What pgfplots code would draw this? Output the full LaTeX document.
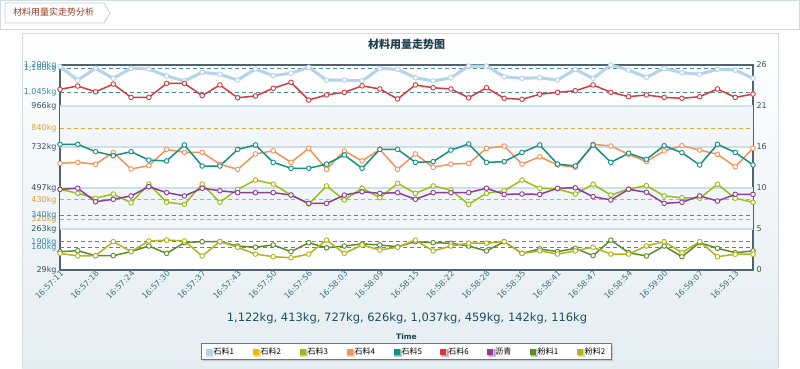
\documentclass[border=0pt]{standalone}
\usepackage{fontspec}
\setmainfont{DejaVu Sans}
\newfontfamily\cjk{Noto Sans CJK SC}
\usepackage{pgfplots}
\pgfplotsset{compat=1.18}
\usepackage{pgfplotstable}
\usetikzlibrary{shadows}
\definecolor{framec}{HTML}{4F6470}
\definecolor{c1}{HTML}{B5D3EA}
\definecolor{c2}{HTML}{F2B705}
\definecolor{c3}{HTML}{99BF17}
\definecolor{c4}{HTML}{F5925B}
\definecolor{c5}{HTML}{168F85}
\definecolor{c6}{HTML}{D33B40}
\definecolor{c7}{HTML}{8D3F96}
\definecolor{c8}{HTML}{5A8C2B}
\definecolor{c9}{HTML}{B3B31E}
\definecolor{ylab}{HTML}{35525E}
\definecolor{lbl}{HTML}{3888A8}
\definecolor{lor}{HTML}{D8A030}
\definecolor{xtc}{HTML}{3D7080}
\definecolor{bandc}{HTML}{F2F6F8}
\definecolor{gridc}{HTML}{CDDFE7}
\definecolor{dashb}{HTML}{4B8CA3}
\definecolor{dasho}{HTML}{E3A73A}
\definecolor{panelbot}{HTML}{E4EDF2}
\definecolor{panelline}{HTML}{D2DBE0}
\definecolor{tabline}{HTML}{C4CDD2}
\definecolor{hdrtext}{HTML}{9A3A22}
\definecolor{titc}{HTML}{1F3F4F}
\definecolor{sumc}{HTML}{1F4D5C}
\definecolor{legc}{HTML}{6A7A84}
\pgfplotstableread{
i s1 s3 s4 s5 s6 lq f1 f2
0 1190 490 638 747 1061 490 134 124
1 1114 467 644 747 1080 496 139 109
2 1181 439 633 705 1047 419 111 111
3 1124 463 701 682 1091 433 111 191
4 1181 413 606 705 1015 452 134 134
5 1177 520 625 657 1015 505 166 195
6 1137 416 718 652 1095 471 124 200
7 1109 404 701 743 1095 452 185 195
8 1158 520 701 623 1025 496 191 109
9 1147 416 633 623 1086 482 191 191
10 1114 490 604 718 1013 471 166 159
11 1177 543 692 743 1023 471 159 120
12 1139 520 710 644 1067 471 172 105
13 1153 457 644 610 1101 457 134 99
14 1187 406 724 610 1000 410 185 120
15 1114 509 604 634 1029 410 156 200
16 1114 429 709 686 1044 457 166 124
17 1109 496 652 610 1081 476 178 172
18 1181 442 718 718 1063 467 172 143
19 1175 524 604 718 1006 471 162 159
20 1127 467 692 644 1086 433 191 200
21 1109 509 616 648 1070 471 185 138
22 1127 486 634 714 1063 471 182 166
23 1194 404 638 749 1013 471 166 182
24 1194 467 724 644 1070 496 138 182
25 1133 482 737 648 1010 461 191 191
26 1124 543 634 701 1004 463 124 124
27 1127 496 676 743 1033 461 149 138
28 1114 492 629 634 1044 496 134 120
29 1175 463 616 623 1053 499 153 138
30 1124 519 747 743 1086 448 111 159
31 1200 457 737 644 1044 429 200 120
32 1171 492 690 696 1019 490 128 120
33 1130 511 648 661 1029 473 109 166
34 1181 452 709 739 1015 410 166 191
35 1156 442 739 699 1010 416 105 128
36 1147 439 714 629 1019 452 185 191
37 1175 519 690 747 1063 423 153 105
38 1171 439 619 701 1015 461 128 119
39 1124 416 724 629 1034 461 138 119
}\data
\pgfplotsset{ser/.style={color=#1, line width=1.5pt, mark=*, mark size=2.3pt, mark options={fill=white, line width=0.9pt}}}
\begin{document}
\begin{tikzpicture}[x=1pt,y=1pt]
\useasboundingbox (0,0) rectangle (800,368);
\fill[white] (0,0) rectangle (800,368);
% header
\draw[panelline, fill=white] (0.5,339) rectangle (799.5,367.5);
\draw[tabline, fill=white, line width=0.8pt] (5,365) -- (104,365) -- (110,355) -- (104,345) -- (5,345) -- cycle;
\node[font=\cjk\fontsize{9}{10}\selectfont, text=hdrtext, anchor=west, inner sep=0pt] at (13,355.5) {材料用量实走势分析};
% panel
\shade[top color=white, bottom color=panelbot] (22,0) rectangle (778,335);
\draw[panelline, line width=0.8pt] (22,0) -- (22,335) -- (778,335) -- (778,0);
\begin{axis}[
  at={(60pt,98pt)}, anchor=south west, scale only axis,
  width=693pt, height=205pt,
  xmin=0, xmax=39, ymin=29, ymax=1200,
  clip=false,
  axis line style={draw=framec, line width=1.8pt},
  axis background/.style={fill=white},
  major tick length=0pt,
  xtick pos=bottom, ytick pos=left,
  xtick={0,2,...,38},
  xticklabels={16:57:11,16:57:18,16:57:24,16:57:30,16:57:37,16:57:43,16:57:50,16:57:56,16:58:03,16:58:09,16:58:15,16:58:22,16:58:28,16:58:35,16:58:41,16:58:47,16:58:54,16:59:00,16:59:07,16:59:13},
  ytick={29,160,190,263,320,340,430,497,732,840,966,1045,1180,1200},
  yticklabels={29kg,{\textcolor{lbl}{160kg}},{\textcolor{lbl}{190kg}},263kg,{\textcolor{lor}{320kg}},{\textcolor{lbl}{340kg}},{\textcolor{lor}{430kg}},497kg,732kg,{\textcolor{lor}{840kg}},966kg,{\textcolor{lbl}{1,045kg}},{\textcolor{lbl}{1,180kg}},{\textcolor{lbl}{1,200kg}}},
  tick label style={font=\fontsize{8}{9}\selectfont},
  y tick label style={text=ylab},
  x tick label style={rotate=45, anchor=east, text=xtc, inner sep=1pt, yshift=-3pt, xshift=1pt},
  title={材料用量走势图},
  title style={at={(0.5,1.0732)}, anchor=center, font=\cjk\bfseries\fontsize{11}{12}\selectfont, text=titc},
  xlabel={Time},
  xlabel style={at={(axis description cs:0.5,-0.327)}, anchor=center, font=\bfseries\fontsize{7.5}{9}\selectfont, text=titc},
  legend columns=9,
  legend cell align=left,
  legend image code/.code={\fill[#1, draw=none] (0pt,-3pt) rectangle (6pt,3pt);},
  legend style={at={(0.5,-0.3976)}, anchor=center, draw=legc, fill=white, line width=0.6pt,
    drop shadow={shadow xshift=1.5pt, shadow yshift=-1.5pt, opacity=0.35},
    font=\cjk\fontsize{8}{9}\selectfont, inner xsep=4pt, inner ysep=2pt,
    /tikz/every even column/.append style={column sep=16.5pt}},
]
\fill[bandc] (axis cs:0,732) rectangle (axis cs:39,966);
\fill[bandc] (axis cs:0,263) rectangle (axis cs:39,497);
\pgfplotsinvokeforeach{263,497,732,966}{\draw[gridc, line width=1.5pt] (axis cs:0,#1) -- (axis cs:39,#1);}
\pgfplotsinvokeforeach{160,190,340,1045,1180}{\draw[dashb, line width=1pt, dash pattern=on 4pt off 3pt] (axis cs:0,#1) -- (axis cs:39,#1);}
\pgfplotsinvokeforeach{320,430,840}{\draw[dasho, line width=1pt, dash pattern=on 4pt off 3pt] (axis cs:0,#1) -- (axis cs:39,#1);}
\addplot[ser=c1, line width=3pt] table[x=i, y=s1] {\data};
\addlegendentry{石料1}
\addlegendimage{color=c2}
\addlegendentry{石料2}
\addplot[ser=c3] table[x=i, y=s3] {\data};
\addlegendentry{石料3}
\addplot[ser=c4] table[x=i, y=s4] {\data};
\addlegendentry{石料4}
\addplot[ser=c5] table[x=i, y=s5] {\data};
\addlegendentry{石料5}
\addplot[ser=c6] table[x=i, y=s6] {\data};
\addlegendentry{石料6}
\addplot[ser=c7] table[x=i, y=lq] {\data};
\addlegendentry{沥青}
\addplot[ser=c8] table[x=i, y=f1] {\data};
\addlegendentry{粉料1}
\addplot[ser=c9] table[x=i, y=f2] {\data};
\addlegendentry{粉料2}
\end{axis}
\begin{axis}[
  at={(60pt,98pt)}, anchor=south west, scale only axis,
  width=693pt, height=205pt,
  xmin=0, xmax=39, ymin=0, ymax=26,
  axis x line=none, axis y line*=right,
  y axis line style={draw=none},
  major tick length=0pt,
  ytick={0,5.2,10.4,15.6,20.8,26},
  yticklabels={0,5,10,16,21,26},
  y tick label style={font=\fontsize{8}{9}\selectfont, text=ylab},
]
\end{axis}
\node[font=\fontsize{11.5}{13}\selectfont, text=sumc] at (407,50) {1,122kg, 413kg, 727kg, 626kg, 1,037kg, 459kg, 142kg, 116kg};
\end{tikzpicture}
\end{document}
